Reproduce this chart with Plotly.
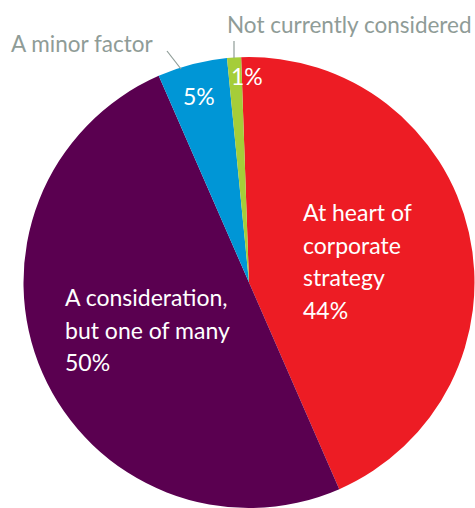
import plotly.graph_objects as go

# Slices, clockwise from the top
labels = ["At heart of corporate strategy", "A consideration, but one of many",
          "A minor factor", "Not currently considered"]
values = [44, 50, 5, 1]
colors = ["#ED1C24", "#5A0050", "#0096D6", "#A5CD39"]

W, H = 475, 508


def px(x, y):
    # pixel position -> paper coords (no margins)
    return x / W, 1 - y / H


fig = go.Figure()

fig.add_trace(go.Pie(
    labels=labels,
    values=values,
    marker=dict(colors=colors, line=dict(width=0)),
    sort=False,
    direction="clockwise",
    rotation=-2,
    textinfo="none",
    hoverinfo="label+percent",
    showlegend=False,
    domain=dict(x=[23 / W, 1.0], y=[0.0, 1 - 57 / H]),
))

font_white = dict(family="Lato, sans-serif", size=23, color="white")
font_grey = dict(family="Lato, sans-serif", size=22.5, color="#8F9C97")

annotations = []


def add_text(text, x, y, font, anchor="left"):
    ax, ay = px(x, y)
    annotations.append(dict(
        x=ax, y=ay, xref="paper", yref="paper", text=text, showarrow=False,
        xanchor=anchor, yanchor="middle", font=font,
    ))


# big slices: multi-line label inside, then the percentage
red_lines = ["At heart of", "corporate", "strategy", f"{values[0]}%"]
for i, line in enumerate(red_lines):
    add_text(line, 301, 212 + i * 32.5, font_white)

purple_lines = ["A consideration,", "but one of many", f"{values[1]}%"]
for i, line in enumerate(purple_lines):
    add_text(line, 63, 297 + i * 32.5, font_white)

# small slices: percentage inside, name outside with a leader line
add_text(f"{values[2]}%", 199, 96, font_white, anchor="center")
add_text(f"{values[3]}%", 247, 76, font_white, anchor="center")
add_text(labels[2], 9, 44, font_grey)
add_text(labels[3], 474, 24, font_grey, anchor="right")

shapes = []
for (x0, y0), (x1, y1) in [((167, 51), (181, 69)), ((234, 41), (234, 58))]:
    a0, b0 = px(x0, y0)
    a1, b1 = px(x1, y1)
    shapes.append(dict(type="line", xref="paper", yref="paper",
                       x0=a0, y0=b0, x1=a1, y1=b1,
                       line=dict(color="#8F9C97", width=1.2)))

fig.update_layout(
    width=W,
    height=H,
    margin=dict(l=0, r=0, t=0, b=0),
    paper_bgcolor="white",
    plot_bgcolor="white",
    annotations=annotations,
    shapes=shapes,
)

# drop the browser's default body margin so the figure fills the window
fig.write_html(
    "out.html",
    config={"displayModeBar": False},
    post_script="document.body.style.margin='0';document.body.style.overflow='hidden';",
)
